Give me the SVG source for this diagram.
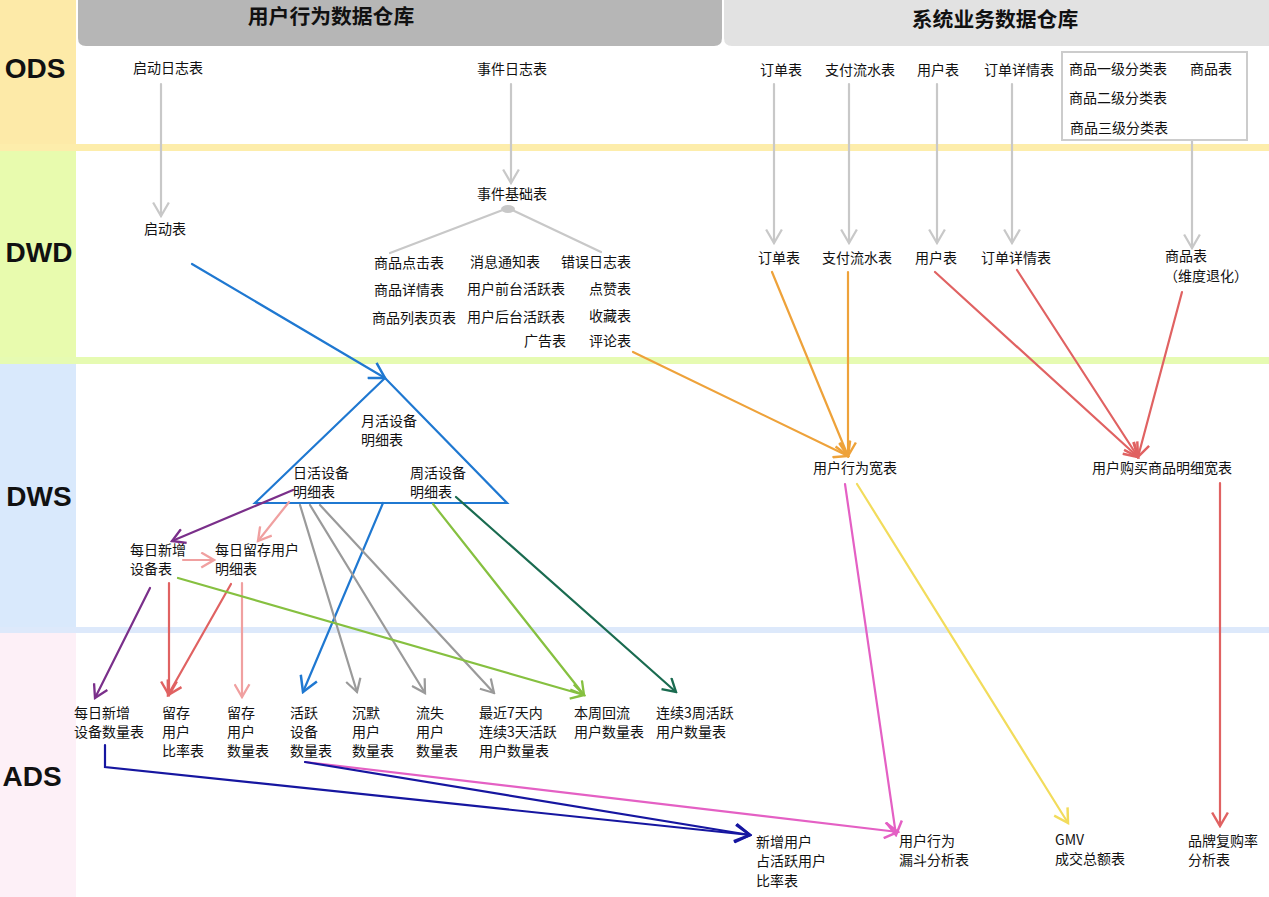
<svg xmlns="http://www.w3.org/2000/svg" width="1269" height="897" viewBox="0 0 1269 897">
<style>
.t{font-family:"Noto Sans CJK SC","Liberation Sans",sans-serif;font-size:14px;fill:#111}
.h{font-family:"Noto Sans CJK SC","Liberation Sans",sans-serif;font-size:20.8px;font-weight:bold;fill:#111}
.l{font-family:"Liberation Sans",Arial,sans-serif;font-size:28px;font-weight:bold;fill:#111}
.c{fill:none;stroke-width:2.2;stroke-linecap:round}
</style>
<defs>
<marker id="m-gray" viewBox="0 0 16 16" refX="14" refY="8" markerWidth="18" markerHeight="18" markerUnits="userSpaceOnUse" orient="auto"><path d="M2,1 L14,8 L2,15" fill="none" stroke="#c8c8c8" stroke-width="2"/></marker>
<marker id="m-dgray" viewBox="0 0 16 16" refX="14" refY="8" markerWidth="17" markerHeight="17" markerUnits="userSpaceOnUse" orient="auto"><path d="M2,1 L14,8 L2,15" fill="none" stroke="#9a9a9a" stroke-width="2.1"/></marker>
<marker id="m-blue" viewBox="0 0 16 16" refX="14" refY="8" markerWidth="20" markerHeight="20" markerUnits="userSpaceOnUse" orient="auto"><path d="M2,1 L14,8 L2,15" fill="none" stroke="#1f78d1" stroke-width="2"/></marker>
<marker id="m-orange" viewBox="0 0 16 16" refX="14" refY="8" markerWidth="18" markerHeight="18" markerUnits="userSpaceOnUse" orient="auto"><path d="M2,1 L14,8 L2,15" fill="none" stroke="#eea23a" stroke-width="2.2"/></marker>
<marker id="m-red" viewBox="0 0 16 16" refX="14" refY="8" markerWidth="18" markerHeight="18" markerUnits="userSpaceOnUse" orient="auto"><path d="M2,1 L14,8 L2,15" fill="none" stroke="#e06262" stroke-width="2.2"/></marker>
<marker id="m-pink" viewBox="0 0 16 16" refX="14" refY="8" markerWidth="18" markerHeight="18" markerUnits="userSpaceOnUse" orient="auto"><path d="M2,1 L14,8 L2,15" fill="none" stroke="#e460c4" stroke-width="2.2"/></marker>
<marker id="m-yellow" viewBox="0 0 16 16" refX="14" refY="8" markerWidth="18" markerHeight="18" markerUnits="userSpaceOnUse" orient="auto"><path d="M2,1 L14,8 L2,15" fill="none" stroke="#f2dc5c" stroke-width="2.2"/></marker>
<marker id="m-purple" viewBox="0 0 16 16" refX="14" refY="8" markerWidth="17" markerHeight="17" markerUnits="userSpaceOnUse" orient="auto"><path d="M2,1 L14,8 L2,15" fill="none" stroke="#7a2f8a" stroke-width="2.2"/></marker>
<marker id="m-lpink" viewBox="0 0 16 16" refX="14" refY="8" markerWidth="17" markerHeight="17" markerUnits="userSpaceOnUse" orient="auto"><path d="M2,1 L14,8 L2,15" fill="none" stroke="#f0a0a0" stroke-width="2.2"/></marker>
<marker id="m-green" viewBox="0 0 16 16" refX="14" refY="8" markerWidth="17" markerHeight="17" markerUnits="userSpaceOnUse" orient="auto"><path d="M2,1 L14,8 L2,15" fill="none" stroke="#86c040" stroke-width="2.2"/></marker>
<marker id="m-dgreen" viewBox="0 0 16 16" refX="14" refY="8" markerWidth="17" markerHeight="17" markerUnits="userSpaceOnUse" orient="auto"><path d="M2,1 L14,8 L2,15" fill="none" stroke="#1a6b50" stroke-width="2.2"/></marker>
<marker id="m-dblue" viewBox="0 0 16 16" refX="14" refY="8" markerWidth="20" markerHeight="20" markerUnits="userSpaceOnUse" orient="auto"><path d="M2,1 L14,8 L2,15" fill="none" stroke="#1616a0" stroke-width="2.2"/></marker>
</defs>
<rect width="1269" height="897" fill="#ffffff"/>
<g id="layers">
<rect x="0" y="0" width="76" height="145" fill="#fdeaa8"/>
<rect x="0" y="148" width="76" height="210" fill="#e8fbae"/>
<rect x="0" y="362" width="76" height="267" fill="#d9e9fc"/>
<rect x="0" y="632" width="76" height="265" fill="#fdf0f7"/>
<rect x="0" y="144" width="1269" height="7" fill="#fdedab"/>
<rect x="0" y="357" width="1269" height="7" fill="#e6fbb2"/>
<rect x="0" y="627" width="1269" height="6" fill="#dde9fb"/>
<text class="l" x="35" y="78" text-anchor="middle">ODS</text>
<text class="l" x="39" y="262" text-anchor="middle">DWD</text>
<text class="l" x="39" y="506" text-anchor="middle">DWS</text>
<text class="l" x="32" y="786" text-anchor="middle">ADS</text>
</g>
<g id="headers">
<path d="M78,0 H722 V38 Q722,46 714,46 H86 Q78,46 78,38 Z" fill="#b6b6b6"/>
<path d="M724,0 H1269 V46 H732 Q724,46 724,38 Z" fill="#e2e2e2"/>
<text class="h" x="331" y="24" text-anchor="middle">用户行为数据仓库</text>
<text class="h" x="995" y="27" text-anchor="middle">系统业务数据仓库</text>
</g>
<g id="connectors">
<g stroke="#c8c8c8" class="c">
<line x1="161" y1="84" x2="161" y2="216" marker-end="url(#m-gray)"/>
<line x1="511" y1="84" x2="511" y2="183" marker-end="url(#m-gray)"/>
<line x1="774" y1="84" x2="774" y2="243" marker-end="url(#m-gray)"/>
<line x1="849" y1="84" x2="849" y2="243" marker-end="url(#m-gray)"/>
<line x1="937" y1="84" x2="937" y2="243" marker-end="url(#m-gray)"/>
<line x1="1012" y1="84" x2="1012" y2="243" marker-end="url(#m-gray)"/>
<line x1="1192" y1="141" x2="1192" y2="248" marker-end="url(#m-gray)"/>
<line x1="508" y1="208" x2="390" y2="253"/>
<line x1="508" y1="208" x2="601" y2="252"/>
</g>
<ellipse cx="508" cy="209" rx="7" ry="4" fill="#c8c8c8"/>
<g stroke="#1f78d1" class="c">
<line x1="192" y1="264" x2="385" y2="378" marker-end="url(#m-blue)"/>
<polygon points="385,378 255,503 507,503" stroke-linejoin="miter"/>
<line x1="383" y1="503" x2="303" y2="692" marker-end="url(#m-blue)"/>
</g>
<g stroke="#eea23a" class="c">
<line x1="772" y1="272" x2="848" y2="456" marker-end="url(#m-orange)"/>
<line x1="848" y1="272" x2="848" y2="456" marker-end="url(#m-orange)"/>
<line x1="633" y1="352" x2="848" y2="456" marker-end="url(#m-orange)"/>
</g>
<g stroke="#e06262" class="c">
<line x1="935" y1="272" x2="1138" y2="457" marker-end="url(#m-red)"/>
<line x1="1017" y1="270" x2="1138" y2="457" marker-end="url(#m-red)"/>
<line x1="1182" y1="292" x2="1138" y2="457" marker-end="url(#m-red)"/>
<line x1="1220" y1="483" x2="1220" y2="826" marker-end="url(#m-red)"/>
<line x1="169" y1="583" x2="169" y2="695" marker-end="url(#m-red)"/>
<line x1="231" y1="584" x2="168" y2="695" marker-end="url(#m-red)"/>
</g>
<g stroke="#e460c4" class="c">
<line x1="845" y1="484" x2="896" y2="835" marker-end="url(#m-pink)"/>
<line x1="305" y1="762" x2="898" y2="832" marker-end="url(#m-pink)"/>
</g>
<line class="c" stroke="#f2dc5c" x1="857" y1="484" x2="1068" y2="823" marker-end="url(#m-yellow)"/>
<g stroke="#7a2f8a" class="c">
<line x1="293" y1="490" x2="172" y2="541" marker-end="url(#m-purple)"/>
<line x1="150" y1="588" x2="95" y2="698" marker-end="url(#m-purple)"/>
</g>
<g stroke="#f0a0a0" class="c">
<line x1="289" y1="502" x2="258" y2="541" marker-end="url(#m-lpink)"/>
<line x1="183" y1="560" x2="214" y2="560" marker-end="url(#m-lpink)"/>
<line x1="242" y1="583" x2="242" y2="697" marker-end="url(#m-lpink)"/>
</g>
<g stroke="#9a9a9a" class="c">
<line x1="300" y1="505" x2="357" y2="692" marker-end="url(#m-dgray)"/>
<line x1="310" y1="505" x2="425" y2="693" marker-end="url(#m-dgray)"/>
<line x1="320" y1="505" x2="494" y2="693" marker-end="url(#m-dgray)"/>
</g>
<g stroke="#86c040" class="c">
<line x1="433" y1="504" x2="584" y2="695" marker-end="url(#m-green)"/>
<line x1="178" y1="578" x2="584" y2="695" marker-end="url(#m-green)"/>
</g>
<line class="c" stroke="#1a6b50" x1="456" y1="497" x2="676" y2="692" marker-end="url(#m-dgreen)"/>
<g stroke="#1616a0" class="c">
<polyline points="105,745 105,767 750,835" marker-end="url(#m-dblue)"/>
<line x1="305" y1="762" x2="750" y2="835" marker-end="url(#m-dblue)"/>
</g>
</g>
<g id="ods-nodes">
<g id="n-qidongrizhi"><text class="t" x="133" y="73">启动日志表</text></g>
<g id="n-shijianrizhi"><text class="t" x="477" y="74">事件日志表</text></g>
<g id="n-ods-dingdan"><text class="t" x="760" y="75">订单表</text></g>
<g id="n-ods-zhifu"><text class="t" x="825" y="75">支付流水表</text></g>
<g id="n-ods-yonghu"><text class="t" x="917" y="75">用户表</text></g>
<g id="n-ods-dingdanxq"><text class="t" x="984" y="75">订单详情表</text></g>
<g id="n-ods-shangpin">
<rect x="1062" y="52" width="185" height="88" fill="none" stroke="#cccccc" stroke-width="2"/>
<text class="t" x="1069" y="74">商品一级分类表</text>
<text class="t" x="1190" y="74">商品表</text>
<text class="t" x="1069" y="103">商品二级分类表</text>
<text class="t" x="1070" y="133">商品三级分类表</text>
</g>
</g>
<g id="dwd-nodes">
<g id="n-qidong"><text class="t" x="144" y="234">启动表</text></g>
<g id="n-shijianjichu"><text class="t" x="477" y="199">事件基础表</text></g>
<g id="n-event-tables">
<text class="t" x="374" y="268">商品点击表</text>
<text class="t" x="470" y="267">消息通知表</text>
<text class="t" x="561" y="267">错误日志表</text>
<text class="t" x="374" y="295">商品详情表</text>
<text class="t" x="467" y="294">用户前台活跃表</text>
<text class="t" x="589" y="294">点赞表</text>
<text class="t" x="372" y="323">商品列表页表</text>
<text class="t" x="467" y="322">用户后台活跃表</text>
<text class="t" x="589" y="321">收藏表</text>
<text class="t" x="524" y="346">广告表</text>
<text class="t" x="589" y="346">评论表</text>
</g>
<g id="n-dwd-dingdan"><text class="t" x="758" y="263">订单表</text></g>
<g id="n-dwd-zhifu"><text class="t" x="822" y="263">支付流水表</text></g>
<g id="n-dwd-yonghu"><text class="t" x="915" y="263">用户表</text></g>
<g id="n-dwd-dingdanxq"><text class="t" x="981" y="263">订单详情表</text></g>
<g id="n-dwd-shangpin"><text class="t" x="1165" y="261">商品表</text><text class="t" x="1164" y="281">（维度退化）</text></g>
</g>
<g id="dws-nodes">
<g id="n-yuehuo"><text class="t" x="361" y="426">月活设备</text><text class="t" x="361" y="445">明细表</text></g>
<g id="n-rihuo"><text class="t" x="293" y="478">日活设备</text><text class="t" x="293" y="497">明细表</text></g>
<g id="n-zhouhuo"><text class="t" x="410" y="478">周活设备</text><text class="t" x="410" y="497">明细表</text></g>
<g id="n-meirixinzeng"><text class="t" x="130" y="555">每日新增</text><text class="t" x="130" y="574">设备表</text></g>
<g id="n-meiriliucun"><text class="t" x="215" y="555">每日留存用户</text><text class="t" x="215" y="574">明细表</text></g>
<g id="n-xingweikuan"><text class="t" x="813" y="473">用户行为宽表</text></g>
<g id="n-goumaikuan"><text class="t" x="1092" y="473">用户购买商品明细宽表</text></g>
</g>
<g id="ads-nodes">
<g id="n-a1"><text class="t" x="74" y="718">每日新增</text><text class="t" x="74" y="737">设备数量表</text></g>
<g id="n-a2"><text class="t" x="162" y="718">留存</text><text class="t" x="162" y="737">用户</text><text class="t" x="162" y="756">比率表</text></g>
<g id="n-a3"><text class="t" x="227" y="718">留存</text><text class="t" x="227" y="737">用户</text><text class="t" x="227" y="756">数量表</text></g>
<g id="n-a4"><text class="t" x="290" y="718">活跃</text><text class="t" x="290" y="737">设备</text><text class="t" x="290" y="756">数量表</text></g>
<g id="n-a5"><text class="t" x="352" y="718">沉默</text><text class="t" x="352" y="737">用户</text><text class="t" x="352" y="756">数量表</text></g>
<g id="n-a6"><text class="t" x="416" y="718">流失</text><text class="t" x="416" y="737">用户</text><text class="t" x="416" y="756">数量表</text></g>
<g id="n-a7"><text class="t" x="479" y="718">最近7天内</text><text class="t" x="479" y="737">连续3天活跃</text><text class="t" x="479" y="756">用户数量表</text></g>
<g id="n-a8"><text class="t" x="574" y="718">本周回流</text><text class="t" x="574" y="737">用户数量表</text></g>
<g id="n-a9"><text class="t" x="656" y="718">连续3周活跃</text><text class="t" x="656" y="737">用户数量表</text></g>
<g id="n-a10"><text class="t" x="756" y="847">新增用户</text><text class="t" x="756" y="866">占活跃用户</text><text class="t" x="756" y="886">比率表</text></g>
<g id="n-a11"><text class="t" x="899" y="846">用户行为</text><text class="t" x="899" y="865">漏斗分析表</text></g>
<g id="n-a12"><text class="t" x="1055" y="845">GMV</text><text class="t" x="1055" y="864">成交总额表</text></g>
<g id="n-a13"><text class="t" x="1188" y="846">品牌复购率</text><text class="t" x="1188" y="865">分析表</text></g>
</g>
</svg>
